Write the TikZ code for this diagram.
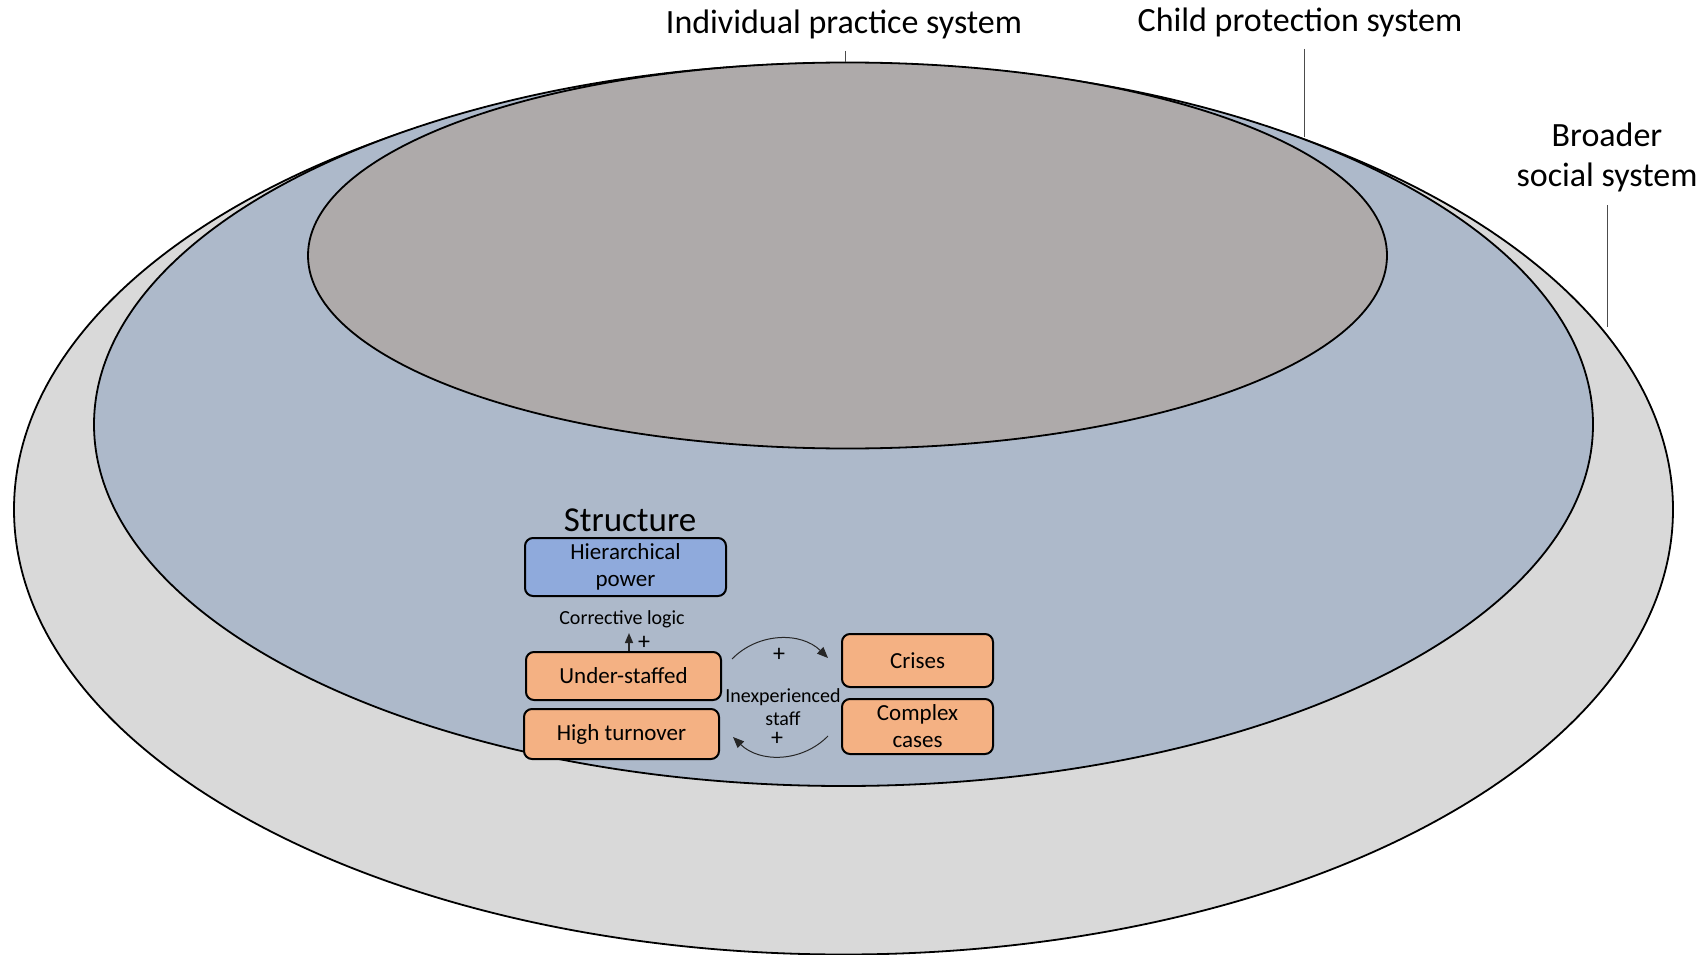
\documentclass[tikz,border=0pt]{standalone}
\usepackage{fontspec}
\setmainfont{Carlito}
\usetikzlibrary{arrows.meta}
\definecolor{outergray}{HTML}{D9D9D9}
\definecolor{cpblue}{HTML}{ADB9CA}
\definecolor{ipgray}{HTML}{AEAAAA}
\definecolor{hpblue}{HTML}{8FAADC}
\definecolor{boxorange}{HTML}{F4B183}

\begin{document}
\begin{tikzpicture}[x=1pt,y=-1pt,
    ring/.style={draw=black,line width=1.8pt},
    factor/.style={draw=black,line width=2pt,rounded corners=8pt,fill=boxorange,
      align=center,inner sep=0pt,font=\fontsize{23}{27}\selectfont},
    title/.style={font=\fontsize{34}{40}\selectfont,align=center},
    small/.style={font=\fontsize{20}{23}\selectfont,align=center},
    plus/.style={font=\fontsize{24}{26}\selectfont},
    tick/.style={draw=black!70,line width=1pt},
    loop/.style={draw=black!85,line width=1pt,-{Triangle[length=11pt,width=9pt]}}]

     \useasboundingbox (0,0) rectangle (1708,955);

     \coordinate (BS) at (843.5,509.5);
     \coordinate (CP) at (843.5,424.5);
     \coordinate (IP) at (847.5,255.5);

     % the three systems
     \filldraw[ring,fill=outergray] (BS) ellipse [x radius=829.5pt, y radius=445pt];
     \filldraw[ring,fill=cpblue] (CP) ellipse [x radius=749.5pt, y radius=361.5pt];
     \filldraw[ring,fill=ipgray] (IP) ellipse [x radius=539.5pt, y radius=193pt];

     \node[title] (IPS) at (844,24) {Individual practice system};
     \node[title] (CPS) at (1300,22) {Child protection system};
     \node[title] (BSS) at (1607,157) {Broader\\social system};
     \coordinate (IPA) at (845,51);  \coordinate (IPB) at (845,62);
     \coordinate (CPA) at (1304,49); \coordinate (CPB) at (1304,137);
     \coordinate (BSA) at (1607,205); \coordinate (BSB) at (1607,327);
     \draw[tick] (IPA) -- (IPB);
     \draw[tick] (CPA) -- (CPB);
     \draw[tick] (BSA) -- (BSB);

     % structure
     \node[font=\fontsize{35}{40}\selectfont] (ST) at (630,520) {Structure};
     \node[factor,fill=hpblue,minimum width=201pt,minimum height=58pt] (HP) at (625.5,567) {Hierarchical\\power};
     \node[small] (CL) at (622,619) {Corrective logic};
     \node[factor,minimum width=195pt,minimum height=48pt] (US) at (623.5,676) {Under-staffed};
     \node[factor,minimum width=195pt,minimum height=50pt] (HT) at (621.5,734) {High turnover};
     \node[factor,minimum width=151pt,minimum height=53pt] (CR) at (917.5,660.5) {Crises};
     \node[factor,minimum width=151pt,minimum height=55pt] (CC) at (917.5,726.5) {Complex\\cases};
     \node[small] (IS) at (783,707) {Inexperienced\\staff};

     \coordinate (UA) at (629,633);
     \draw[draw=black!85,line width=1.5pt,-{Triangle[length=10pt,width=8pt]}] (US.north -| UA) -- (UA);
     \node[plus] (P1) at (644,643) {+};

     \coordinate (TA) at (732,659); \coordinate (TB) at (828,658);
     \coordinate (BA) at (828,736); \coordinate (BB) at (733,737);
     \draw[loop] (TA) to[bend left=45] (TB);
     \draw[loop] (BA) to[bend left=45] (BB);
     \node[plus] (P2) at (779,655) {+};
     \node[plus] (P3) at (777,739) {+};

  \end{tikzpicture}
\end{document}
